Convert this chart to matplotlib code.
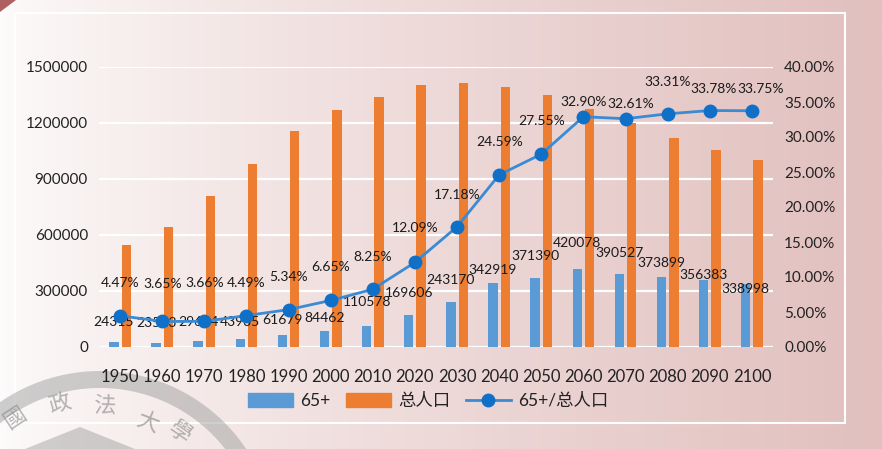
import numpy as np
import matplotlib
matplotlib.use('Agg')
import matplotlib.pyplot as plt
from matplotlib.patches import Wedge, Rectangle, Polygon, Patch
from matplotlib.lines import Line2D

plt.rcParams['font.family'] = ['Lato', 'Noto Sans CJK SC', 'DejaVu Sans']

# data
years = ['1950', '1960', '1970', '1980', '1990', '2000', '2010', '2020',
         '2030', '2040', '2050', '2060', '2070', '2080', '2090', '2100']
pop_65 = [24315, 23523, 29604, 43935, 61679, 84462, 110578, 169606,
          243170, 342919, 371390, 420078, 390527, 373899, 356383, 338998]
pop_total = [544000, 644000, 809000, 978000, 1155000, 1270000, 1340000, 1403000,
             1415000, 1394000, 1348000, 1277000, 1198000, 1122000, 1055000, 1004000]
ratio = [4.47, 3.65, 3.66, 4.49, 5.34, 6.65, 8.25, 12.09,
         17.18, 24.59, 27.55, 32.90, 32.61, 33.31, 33.78, 33.75]

# label nudges (pixels above the mark)
bar_label_dy = [20, 20, 19, 17, 15, 13, 24, 22, 22, 13, 22, 26, 21, 14, 5, -5]
pct_label_dy = [33, 37, 38, 33, 33, 33, 32, 34, 32, 33, 33, 15, 15, 32, 22, 22]
pct_label_dx = [0, 0, 0, 0, 0, 0, 0, 0, 0, 0, 0, 0, 5, 0, 4, 9]

W, H = 882, 449
fig = plt.figure(figsize=(W / 100, H / 100), dpi=100)

# background: gradient, frame, watermark
bg = fig.add_axes([0, 0, 1, 1], zorder=0)
bg.set_xlim(0, W)
bg.set_ylim(H, 0)
bg.axis('off')
t = np.linspace(0, 1, 400) ** 0.8
c0 = np.array([253, 251, 251]) / 255
c1 = np.array([225, 192, 190]) / 255
grad = c0[None, :] + (c1 - c0)[None, :] * t[:, None]
bg.imshow(grad[None, :, :], extent=[0, W, H, 0], aspect='auto')
bg.add_patch(Polygon([(0, 0), (16, 0), (0, 12)], color='#8e2020', alpha=0.7, lw=0))
bg.add_patch(Rectangle((15, 13), 830, 410, fill=False, ec='white', lw=1.5))
cx, cy, r = 100, 547, 176
bg.add_patch(Wedge((cx, cy), r, 180, 360, width=17, color='#a0a0a0', alpha=0.5, lw=0))
bg.add_patch(Polygon([(25, H), (80, 427), (135, H)], color='#9a9a9a', alpha=0.45, lw=0))
for ch, (x, y) in zip('國政法大學', [(15, 418), (60, 404), (104, 406), (148, 422), (180, 432)]):
    rot = np.degrees(np.arctan2(-(x - cx), -(y - cy)))
    bg.text(x, y, ch, rotation=rot, ha='center', va='center', fontsize=16,
            color='#8c8c8c', alpha=0.65, family=['Noto Sans CJK TC'])

# main chart
ax = fig.add_axes([99 / W, 1 - 347 / H, 674 / W, 280 / H], zorder=2)
ax.patch.set_alpha(0)
x = np.arange(len(years))
bw = 0.22
ax.bar(x - 0.147, pop_65, bw, color='#5b9bd5', zorder=3)
ax.bar(x + 0.147, pop_total, bw, color='#ed7d31', zorder=3)
ax.set_xlim(-0.5, len(years) - 0.5)
ax.set_ylim(0, 1500000)
ax.set_yticks(np.arange(0, 1500001, 300000))
ax.set_yticklabels([str(v) for v in range(0, 1500001, 300000)], fontsize=11, color='#222222')
ax.set_xticks(x)
ax.set_xticklabels(years, fontsize=12, color='#222222')
ax.tick_params(axis='x', length=0, pad=16)
ax.tick_params(axis='y', length=0, pad=8)
ax.grid(axis='y', color='white', lw=1.6, zorder=1)
for s in ax.spines.values():
    s.set_visible(False)

for i, v in enumerate(pop_65):
    ax.annotate(str(v), (x[i] - 0.147, v), xytext=(0, bar_label_dy[i] * 0.72),
                textcoords='offset points', ha='center', va='center',
                fontsize=10, color='#1a1a1a', zorder=6)

ax2 = ax.twinx()
ax2.set_zorder(3)
ax2.patch.set_alpha(0)
ax2.plot(x, np.array(ratio) / 100, color='#3a8ad4', lw=2, marker='o', ms=9,
         mfc='#1070c8', mec='#1070c8', zorder=5)
ax2.set_ylim(0, 0.4)
ax2.set_yticks(np.arange(0, 0.4001, 0.05))
ax2.set_yticklabels([f'{v:.2f}%' for v in np.arange(0, 40.01, 5)], fontsize=11, color='#222222')
ax2.tick_params(axis='y', length=0, pad=8)
for s in ax2.spines.values():
    s.set_visible(False)
for i, v in enumerate(ratio):
    ax2.annotate(f'{v:.2f}%', (x[i], v / 100),
                 xytext=(pct_label_dx[i] * 0.72, pct_label_dy[i] * 0.72),
                 textcoords='offset points', ha='center', va='center',
                 fontsize=10, color='#1a1a1a', zorder=6)

handles = [Patch(color='#5b9bd5'), Patch(color='#ed7d31'),
           Line2D([], [], color='#3a8ad4', lw=2, marker='o', ms=9, mfc='#1070c8', mec='#1070c8')]
fig.legend(handles, ['65+', '总人口', '65+/总人口'], loc='center',
           bbox_to_anchor=(428 / W, 1 - 401 / H), ncol=3, frameon=False,
           fontsize=12.5, handlelength=2.6, handleheight=0.9, handletextpad=0.4,
           columnspacing=0.9, labelcolor='#222222')

fig.savefig('out.png', dpi=100)
